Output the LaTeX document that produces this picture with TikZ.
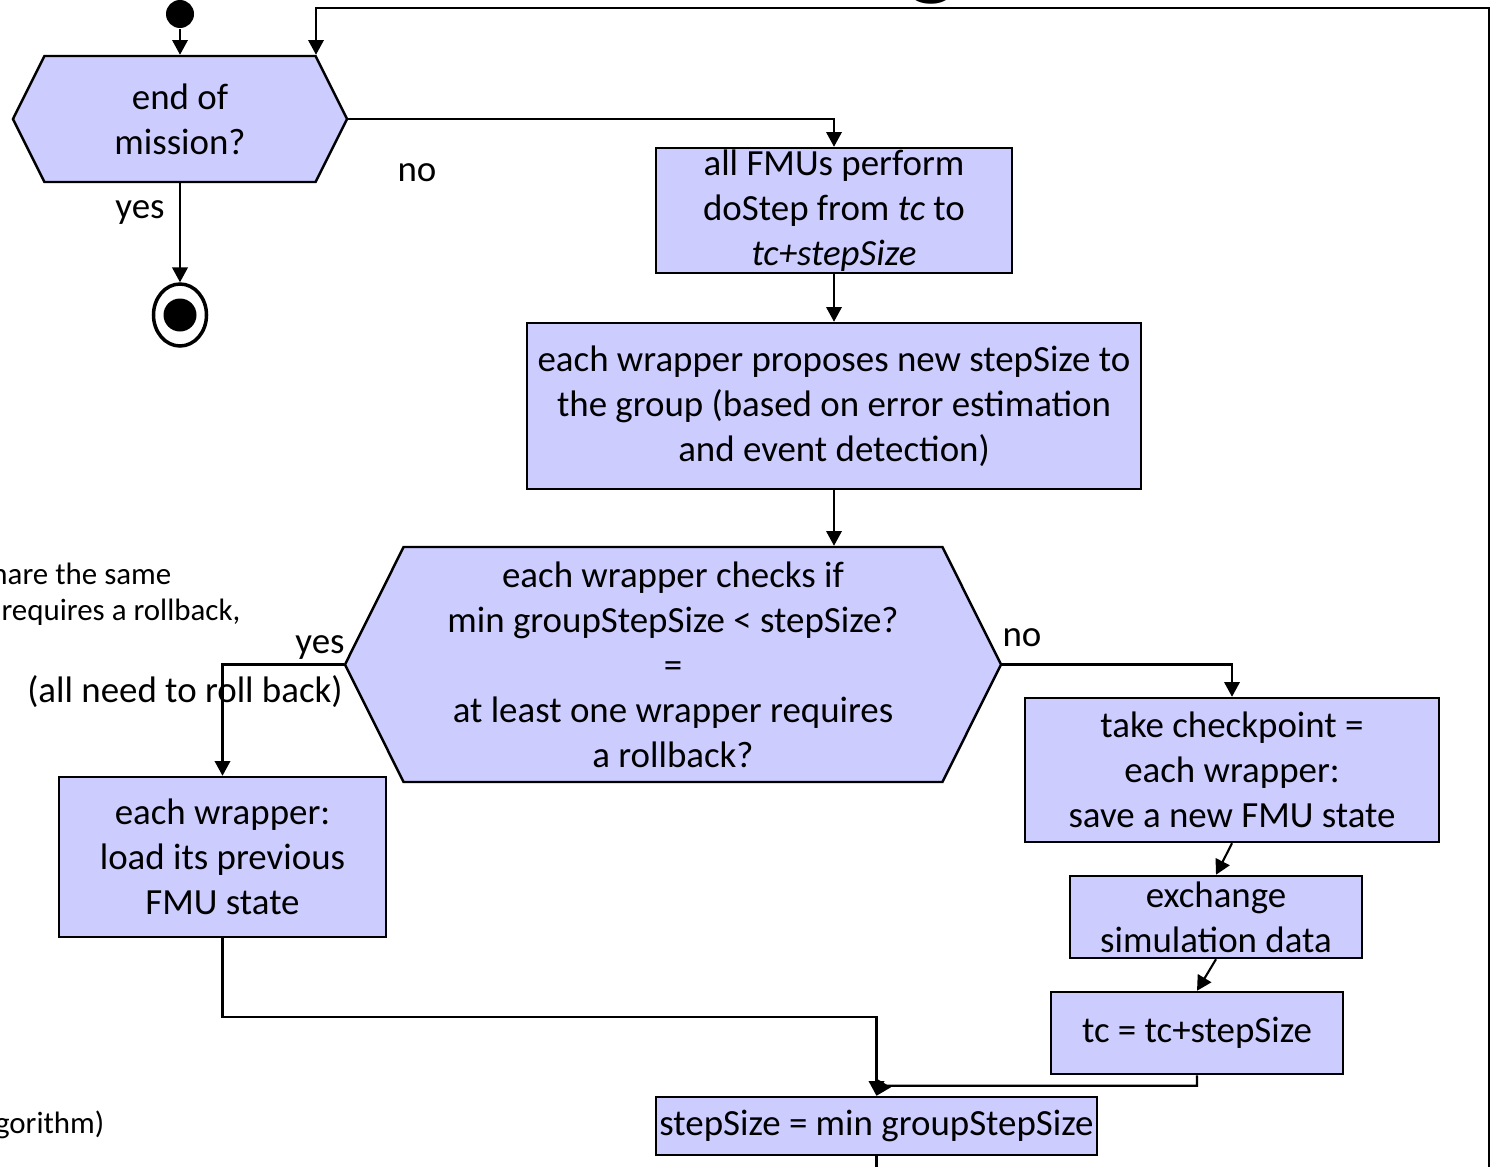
\documentclass[tikz,border=0pt]{standalone}
\usepackage{fontspec}
\setmainfont{Carlito}
\usepackage{tikz}
\usetikzlibrary{positioning,arrows.meta,shapes.geometric,shapes.symbols}
\definecolor{lila}{RGB}{204,204,255}
\tikzset{caja/.style={draw,fill=lila,line width=0.7pt,inner sep=0pt,align=center,
  font=\fontsize{10.5}{12.8}\selectfont}}
\tikzset{decision/.style={caja,shape=signal,signal to=west and east,signal pointer angle=127}}
\tikzset{flecha/.style={line width=0.6pt,-{Triangle[length=4.2pt,width=4.4pt]}}}
\tikzset{arista/.style={line width=0.6pt}}
\tikzset{etiqueta/.style={inner sep=0pt,font=\fontsize{10.5}{12.8}\selectfont}}
\tikzset{nota/.style={inner sep=0pt,anchor=east,font=\fontsize{8.8}{10.8}\selectfont}}

\begin{document}
\begin{tikzpicture}
            \useasboundingbox (0,0) rectangle (14.93,-11.66);
            % nodos
            \node[circle,fill=black,inner sep=0pt,minimum size=0.28cm] (inicio) at (1.80,-0.14) {};
            \node[decision,minimum width=3.34cm,minimum height=1.26cm] (mision) at (1.80,-1.19) {end of\\mission?};
            \node[ellipse,draw,line width=1pt,inner sep=0pt,minimum width=0.53cm,minimum height=0.62cm,
                  path picture={\fill (path picture bounding box.center) circle (0.165);}] (fin) at (1.80,-3.15) {};
            \node[caja,minimum width=3.56cm,minimum height=1.25cm] (fmus) at (8.34,-2.105) {all FMUs perform\\doStep from \textit{tc} to\\\textit{tc+stepSize}};
            \node[caja,minimum width=6.14cm,minimum height=1.66cm] (propuesta) at (8.34,-4.06) {each wrapper proposes new stepSize to\\the group (based on error estimation\\and event detection)};
            \node[decision,minimum width=6.56cm,minimum height=2.35cm] (chequeo) at (6.73,-6.645) {each wrapper checks if\\min groupStepSize < stepSize?\\=\\at least one wrapper requires\\a rollback?};
            \node[caja,minimum width=3.27cm,minimum height=1.60cm] (cargar) at (2.225,-8.57) {each wrapper:\\load its previous\\FMU state};
            \node[caja,minimum width=4.14cm,minimum height=1.44cm] (checkpoint) at (12.32,-7.70) {take checkpoint =\\each wrapper:\\save a new FMU state};
            \node[caja,minimum width=2.92cm,minimum height=0.82cm] (intercambio) at (12.16,-9.17) {exchange\\simulation data};
            \node[caja,minimum width=2.92cm,minimum height=0.82cm] (avance) at (11.97,-10.33) {tc = tc+stepSize};
            \node[caja,minimum width=4.41cm,minimum height=0.58cm] (minpaso) at (8.765,-11.26) {stepSize = min groupStepSize};

            % etiquetas
            \node[etiqueta] (no1) at (4.17,-1.73) {no};
            \node[etiqueta] (si1) at (1.40,-2.13) {yes};
            \node[etiqueta] (si2) at (3.20,-6.48) {yes};
            \node[etiqueta] (no2) at (10.22,-6.38) {no};
            \node[etiqueta] (todos) at (1.85,-6.92) {(all need to roll back)};
            \node[nota] (nota1) at (1.72,-5.74) {hare the same};
            \node[nota] (nota2) at (2.41,-6.12) {requires a rollback,};
            \node[nota] (nota3) at (1.05,-11.25) {gorithm)};
            \node[inner sep=0pt,anchor=base,font=\fontsize{31}{36}\selectfont] (titulo) at (9.32,0.14) {g};

            % conectores
            \coordinate (retorno) at ([xshift=1.36cm]mision.north);
            \coordinate (esquina) at (14.89,-0.08);
            \draw[flecha] (inicio) -- (inicio |- mision.north);
            \draw[flecha] (mision.east) -| (fmus.north);
            \draw[flecha] (mision.south) -- (fin);
            \draw[flecha] (fmus) -- (propuesta);
            \draw[flecha] (propuesta.south) -- (propuesta.south |- chequeo.north);
            \draw[flecha] (chequeo.east) -| (checkpoint.north);
            \draw[flecha] (chequeo.west) -| (cargar.north);
            \draw[flecha] (checkpoint.south) -- (intercambio.north);
            \draw[flecha] (intercambio.south) -- (avance.north);
            \draw[flecha] (cargar.south) |- ([yshift=0.79cm]minpaso.north) -- (minpaso.north);
            \draw[flecha] (avance.south) |- ([xshift=0.06cm,yshift=0.10cm]minpaso.north) -- (minpaso.north);
            \draw[flecha] (minpaso.south) -- ++(0,-0.3) -| (esquina) -| (retorno);
\end{tikzpicture}
\end{document}
